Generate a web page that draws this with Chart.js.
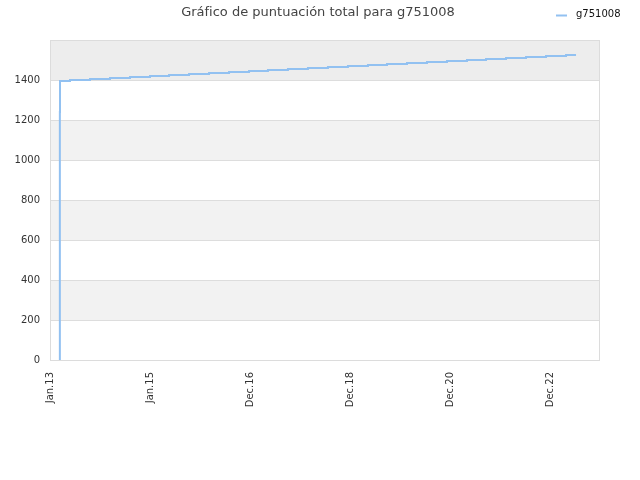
<!DOCTYPE html>
<html lang="es">
<head>
<meta charset="utf-8">
<title>Gráfico de puntuación total para g751008</title>
<script src="https://cdn.jsdelivr.net/npm/chart.js@4.4.1/dist/chart.umd.min.js"></script>
<style>
  html, body { margin: 0; padding: 0; background: #fff; }
  #chart { display: block; }
</style>
</head>
<body>
<canvas id="chart" width="640" height="480"></canvas>
<script>
(() => {
  "use strict";

  const TITLE = "Gráfico de puntuación total para g751008";
  const SERIES_NAME = "g751008";

  // days since 1 Jan 2013, and the total score from that day on
  const DAYS = [
    72, 72, 72, 72, 72, 73,
    146, 292, 438, 584, 730, 869, 1015, 1161, 1307, 1453,
    1591, 1737, 1883, 2029, 2175, 2321, 2460, 2606, 2752, 2898,
    3044, 3183, 3329, 3475, 3621, 3767, 3840,
  ];
  const SCORES = [
    0, 880, 1075, 1140, 1240, 1395,
    1400, 1405, 1410, 1415, 1420, 1425, 1430, 1435, 1440, 1445,
    1450, 1455, 1460, 1465, 1470, 1475, 1480, 1485, 1490, 1495,
    1500, 1505, 1510, 1515, 1520, 1525, 1525,
  ];

  // x axis ticks: every 730 days
  const TICK_DAYS = [0, 730, 1460, 2190, 2920, 3650];
  const TICK_LABELS = ["Jan.13", "Jan.15", "Dec.16", "Dec.18", "Dec.20", "Dec.22"];
  const X_END = 4015;

  const Y_TICKS = [0, 200, 400, 600, 800, 1000, 1200, 1400];
  const Y_MAX = 1600;

  const LINE_COLOR = "#92c1f1";
  const FONT = "'DejaVu Sans', sans-serif";

  // ── Plot background: alternating bands + frame ─────────────────────────────
  const bandsPlugin = {
    id: "bands",
    beforeDraw(chart) {
      const { ctx, chartArea: a, scales: { y } } = chart;
      ctx.save();
      for (let v = 0; v < Y_MAX; v += 200) {
        const top = y.getPixelForValue(v + 200);
        const bot = y.getPixelForValue(v);
        const idx = v / 200;
        if (v + 200 >= Y_MAX) ctx.fillStyle = "#ededed";
        else ctx.fillStyle = idx % 2 === 1 ? "#f2f2f2" : "#ffffff";
        ctx.fillRect(a.left, top, a.right - a.left, bot - top);
      }
      ctx.restore();
    },
    afterDraw(chart) {
      const { ctx, chartArea: a } = chart;
      ctx.save();
      ctx.strokeStyle = "#dcdcdc";
      ctx.lineWidth = 1;
      ctx.strokeRect(a.left + 0.5, a.top + 0.5, a.right - a.left - 1, a.bottom - a.top);
      ctx.restore();
    },
  };

  // ── Title and legend drawn in the top margin ──────────────────────────────
  const headerPlugin = {
    id: "header",
    afterDraw(chart) {
      const { ctx } = chart;
      ctx.save();
      ctx.textBaseline = "middle";
      ctx.fillStyle = "#444";
      ctx.font = "13px " + FONT;
      ctx.textAlign = "center";
      ctx.fillText(TITLE, 318, 13);

      ctx.strokeStyle = LINE_COLOR;
      ctx.lineWidth = 2;
      ctx.beginPath();
      ctx.moveTo(556, 15.5);
      ctx.lineTo(567, 15.5);
      ctx.stroke();
      ctx.fillStyle = "#111";
      ctx.font = "10px " + FONT;
      ctx.textAlign = "left";
      ctx.fillText(SERIES_NAME, 576, 14);
      ctx.restore();
    },
  };

  function buildChart() {
    const ctx = document.getElementById("chart").getContext("2d");
    const points = DAYS.map((d, i) => ({ x: d, y: SCORES[i] }));

    new Chart(ctx, {
      type: "line",
      data: {
        datasets: [
          {
            label: SERIES_NAME,
            data: points,
            borderColor: LINE_COLOR,
            borderWidth: 2,
            stepped: true,
            pointRadius: 0,
            fill: false,
          },
        ],
      },
      options: {
        responsive: false,
        animation: false,
        layout: { padding: { top: 40, right: 40, left: 0, bottom: 0 } },
        plugins: {
          legend: { display: false },
          title: { display: false },
          tooltip: { enabled: false },
        },
        scales: {
          x: {
            type: "linear",
            min: 0,
            max: X_END,
            afterBuildTicks: (scale) => {
              scale.ticks = TICK_DAYS.map((v) => ({ value: v }));
            },
            afterFit: (scale) => { scale.height = 120; },
            grid: { display: false },
            border: { display: false },
            ticks: {
              autoSkip: false,
              minRotation: 90,
              maxRotation: 90,
              padding: 4,
              color: "#333",
              font: { family: FONT, size: 10 },
              callback: (val) => {
                const i = TICK_DAYS.indexOf(val);
                return i >= 0 ? TICK_LABELS[i] : "";
              },
            },
          },
          y: {
            min: 0,
            max: Y_MAX,
            afterBuildTicks: (scale) => {
              scale.ticks = Y_TICKS.map((v) => ({ value: v }));
            },
            afterFit: (scale) => { scale.width = 50; },
            grid: { color: "#dddddd", drawTicks: false },
            border: { display: false },
            ticks: {
              padding: 10,
              color: "#333",
              font: { family: FONT, size: 10 },
              callback: (val) => String(val),
            },
          },
        },
      },
      plugins: [bandsPlugin, headerPlugin],
    });
  }

  document.addEventListener("DOMContentLoaded", buildChart);
})();
</script>
</body>
</html>
